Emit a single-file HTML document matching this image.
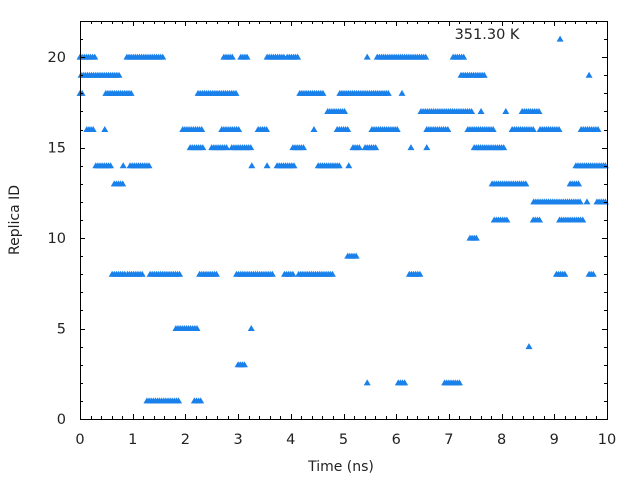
<!DOCTYPE html>
<html><head><meta charset="utf-8">
<style>
html,body{margin:0;padding:0;background:#fff;}
svg{display:block;font-family:"DejaVu Sans","Liberation Sans",sans-serif;}
</style></head>
<body>
<svg id="chart" width="640" height="480" viewBox="0 0 640 480" xmlns="http://www.w3.org/2000/svg">
<rect x="0" y="0" width="640" height="480" fill="#fff"/>
<g id="marks"></g>
<g id="axes"></g>
<text x="487" y="39" font-size="14.5" text-anchor="middle" fill="#222">351.30 K</text>
<text x="341" y="471" font-size="14" text-anchor="middle" fill="#222">Time (ns)</text>
<text x="19" y="220" font-size="14" text-anchor="middle" fill="#222" transform="rotate(-90 19 220)">Replica ID</text>
</svg>
<script>
const runStart = [0,0.89,2.73,3.05,3.55,3.93,5.45,5.64,7.08,9.11,
 0.02,7.23,9.66,
 0,0.49,2.24,4.17,4.93,6.11,
 4.7,6.47,7.61,8.08,8.39,
 0.13,0.47,1.95,2.69,3.38,4.44,4.88,5.54,6.58,7.36,8.2,8.73,9.51,
 2.09,2.5,2.88,4.04,5.18,5.41,6.28,6.58,7.48,
 0.3,0.82,0.95,3.26,3.55,3.74,4.52,5.1,9.41,
 0.65,7.82,9.3,
 8.61,9.62,9.81,
 7.86,8.6,9.1,
 7.4,5.08,
 0.61,0.9,1.33,2.27,2.97,3.88,4.15,6.25,9.04,9.66,
 1.82,3.25,8.52,3.0,5.45,6.04,6.92,1.27,2.17];
const runEnd = [0.28,1.57,2.92,3.2,3.87,4.14,5.45,6.57,7.3,9.11,
 0.76,7.7,9.66,
 0.06,0.99,2.98,4.61,5.88,6.11,
 5.05,7.44,7.61,8.08,8.71,
 0.25,0.47,2.33,3.02,3.57,4.44,5.09,6.02,7.0,7.84,8.6,9.09,9.83,
 2.33,2.81,3.26,4.27,5.31,5.62,6.28,6.58,8.05,
 0.61,0.82,1.33,3.26,3.55,4.08,4.93,5.1,10,
 0.82,8.48,9.49,
 9.49,9.62,10,
 8.12,8.74,9.56,
 7.55,5.27,
 0.87,1.2,1.89,2.59,3.67,4.04,4.79,6.48,9.2,9.76,
 2.25,3.25,8.52,3.13,5.45,6.18,7.2,1.89,2.31];
const runId = [20,20,20,20,20,20,20,20,20,21,
 19,19,19,
 18,18,18,18,18,18,
 17,17,17,17,17,
 16,16,16,16,16,16,16,16,16,16,16,16,16,
 15,15,15,15,15,15,15,15,15,
 14,14,14,14,14,14,14,14,14,
 13,13,13,
 12,12,12,
 11,11,11,
 10,9,
 8,8,8,8,8,8,8,8,8,8,
 5,5,4,3,2,2,2,1,1];
const xTicks = [0,1,2,3,4,5,6,7,8,9,10];
const yTicks = [0,5,10,15,20];
const sampleStep = 0.04;

const L=80,R=607,T=21,B=419,xMax=10,yMax=22;
const sx=t=>L+(R-L)*t/xMax;
const sy=v=>B-(B-T)*v/yMax;
const NS='http://www.w3.org/2000/svg';
const marks=document.getElementById('marks');
for(let i=0;i<runId.length;i++){
  for(let t=runStart[i];t<=runEnd[i]+1e-9;t+=sampleStep){
    const x=sx(t),y=sy(runId[i]);
    const p=document.createElementNS(NS,'polygon');
    p.setAttribute('points',`${x-3.5},${y+2.5} ${x},${y-3.5} ${x+3.5},${y+2.5}`);
    p.setAttribute('fill','#1a80ea');
    
    
    marks.appendChild(p);
  }
}
const axes=document.getElementById('axes');
function line(x1,y1,x2,y2,name){
  const l=document.createElementNS(NS,'line');
  l.setAttribute('x1',x1);l.setAttribute('y1',y1);l.setAttribute('x2',x2);l.setAttribute('y2',y2);
  l.setAttribute('stroke','#000');l.setAttribute('stroke-width','1');
  
  
  axes.appendChild(l);
}
function text(x,y,s,anchor,name){
  const e=document.createElementNS(NS,'text');
  e.setAttribute('x',x);e.setAttribute('y',y);e.setAttribute('font-size','14.5');
  e.setAttribute('text-anchor',anchor);e.setAttribute('fill','#222');
  e.textContent=s;
  
  
  axes.appendChild(e);
}
const rect=document.createElementNS(NS,'rect');
rect.setAttribute('x',L+0.5);rect.setAttribute('y',T+0.5);rect.setAttribute('width',R-L);rect.setAttribute('height',B-T);
rect.setAttribute('fill','none');rect.setAttribute('stroke','#000');


axes.appendChild(rect);
for(let k=0;k<=50;k++){
  const t=k*0.2,x=Math.round(sx(t))+0.5,major=k%5===0,len=major?5:3;
  line(x,B,x,B-len,'x-tick');line(x,T,x,T+len,'x-tick');
}
xTicks.forEach(v=>text(sx(v),444,String(v),'middle','x-tick-label'));
for(let v=0;v<=yMax;v++){
  const y=Math.round(sy(v))+0.5,major=v%5===0,len=major?5:3;
  line(L,y,L+len,y,'y-tick');line(R,y,R-len,y,'y-tick');
}
yTicks.forEach(v=>text(66,sy(v)+5,String(v),'end','y-tick-label'));
</script>
</body></html>
